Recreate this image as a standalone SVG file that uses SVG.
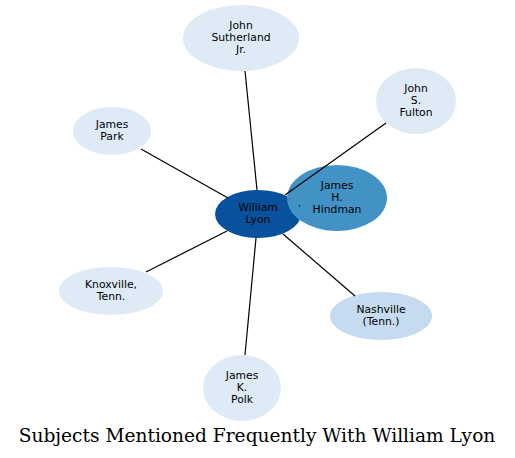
<svg xmlns="http://www.w3.org/2000/svg" width="515" height="458" viewBox="0 0 515 458">
<style>
.n text{font-family:"DejaVu Sans",sans-serif;font-size:10.8px;fill:#000;text-anchor:middle}
.light{fill:#deebf7}
.e line{stroke:#000;stroke-width:1.2}
.title{font-family:"DejaVu Serif",serif;font-size:18.6px;fill:#000;text-anchor:middle}
</style>
<rect width="515" height="458" fill="#fff"/>
<g id="n-sutherland" class="n"><ellipse class="light" cx="241" cy="38" rx="58" ry="33"/><text x="241" y="29">John</text><text x="241" y="41">Sutherland</text><text x="241" y="53">Jr.</text></g>
<g id="n-fulton" class="n"><ellipse class="light" cx="416" cy="101" rx="40" ry="33"/><text x="416" y="92">John</text><text x="416" y="104">S.</text><text x="416" y="116">Fulton</text></g>
<g id="n-park" class="n"><ellipse class="light" cx="112" cy="131" rx="39" ry="24"/><text x="112" y="128">James</text><text x="112" y="140">Park</text></g>
<g id="n-knoxville" class="n"><ellipse class="light" cx="111" cy="291" rx="52" ry="24"/><text x="111" y="288">Knoxville,</text><text x="111" y="300">Tenn.</text></g>
<g id="n-nashville" class="n"><ellipse fill="#c6dbef" cx="381" cy="316" rx="51" ry="24"/><text x="381" y="313">Nashville</text><text x="381" y="325">(Tenn.)</text></g>
<g id="n-polk" class="n"><ellipse class="light" cx="242" cy="388" rx="39" ry="33"/><text x="242" y="379">James</text><text x="242" y="391">K.</text><text x="242" y="403">Polk</text></g>
<g id="n-lyon" class="n"><ellipse fill="#08519c" cx="258" cy="214" rx="43" ry="24"/><text x="258" y="211">William</text><text x="258" y="223">Lyon</text></g>
<g id="n-hindman" class="n"><ellipse fill="#4292c6" cx="337" cy="198" rx="50" ry="33"/><text x="337" y="189">James</text><text x="337" y="201">H.</text><text x="337" y="213">Hindman</text></g>
<g id="edges" class="e">
<line x1="257" y1="190" x2="245" y2="71"/>
<line x1="285" y1="195" x2="386" y2="123"/>
<line x1="228" y1="198" x2="141" y2="149"/>
<line x1="227" y1="231" x2="146" y2="272"/>
<line x1="283" y1="234" x2="355" y2="296"/>
<line x1="256" y1="238" x2="245" y2="355"/>
<line x1="299" y1="205.5" x2="300" y2="206"/>
</g>
<text class="title" x="257" y="442">Subjects Mentioned Frequently With William Lyon</text>
</svg>
